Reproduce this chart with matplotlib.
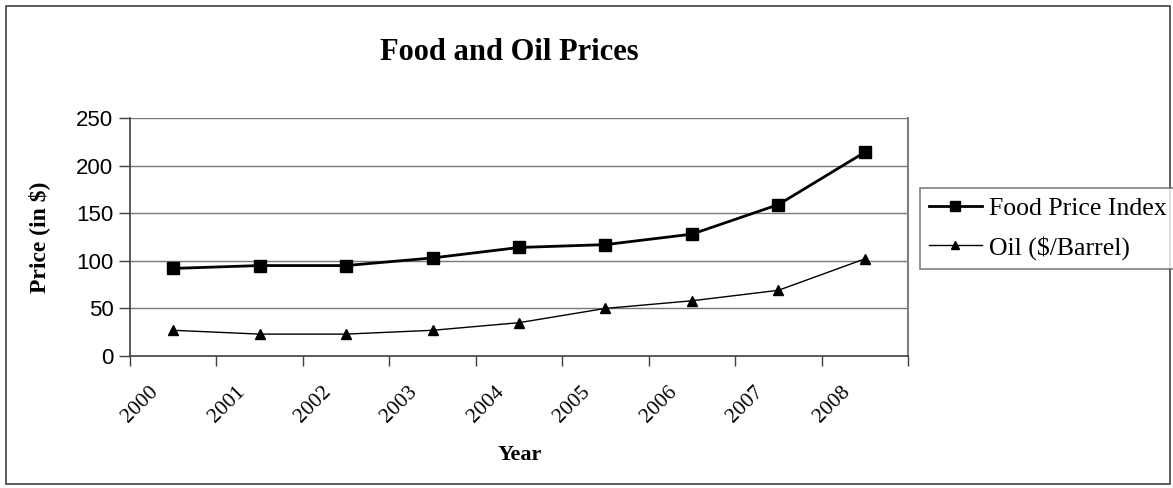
import matplotlib
matplotlib.use("Agg")
import matplotlib.pyplot as plt
import matplotlib.transforms as mtransforms
from matplotlib.patches import Rectangle

years = ["2000", "2001", "2002", "2003", "2004", "2005", "2006", "2007", "2008"]
food_price_index = [92, 95, 95, 103, 114, 117, 128, 159, 214]
oil_price = [27, 23, 23, 27, 35, 50, 58, 69, 102]
y_ticks = [0, 50, 100, 150, 200, 250]

W, H = 1173, 488
fig = plt.figure(figsize=(W / 100, H / 100), dpi=100)
fig.patch.set_facecolor("white")

def fx(px):
    return px / W

def fy(py):
    return 1 - py / H

ax = fig.add_axes([fx(130), fy(356), fx(908) - fx(130), fy(118) - fy(356)])
x = list(range(len(years)))

ax.plot(x, food_price_index, color="black", lw=2.0, marker="s", ms=8.5,
        label="Food Price Index", zorder=3)
ax.plot(x, oil_price, color="black", lw=1.0, marker="^", ms=7,
        label="Oil ($/Barrel)", zorder=3)

ax.set_xlim(-0.5, len(years) - 0.5)
ax.set_ylim(0, 250)
ax.set_yticks(y_ticks)
ax.set_yticklabels([str(v) for v in y_ticks], fontsize=16, family="Liberation Sans")
ax.yaxis.grid(True, color="#777777", lw=1.0)
ax.set_axisbelow(True)

ax.set_xticks(x)
ax.set_xticks([i - 0.5 for i in range(len(years) + 1)], minor=True)
ax.tick_params(axis="x", which="major", length=0, pad=19)
ax.tick_params(axis="x", which="minor", length=7, width=1, color="#404040", direction="out")
ax.tick_params(axis="y", length=8, width=1, color="#404040", direction="out", pad=4)
ax.set_xticklabels(years, fontsize=15.5, family="Liberation Serif", rotation=45,
                   ha="right", va="top")
offset = mtransforms.ScaledTranslation(-11 / 100, 0, fig.dpi_scale_trans)
for lab in ax.get_xticklabels():
    lab.set_transform(lab.get_transform() + offset)

for s in ["left", "bottom"]:
    ax.spines[s].set_color("#404040")
    ax.spines[s].set_linewidth(1.2)
ax.spines["right"].set_color("#808080")
ax.spines["right"].set_linewidth(1.5)
ax.spines["top"].set_visible(False)

fig.text(fx(509), fy(52), "Food and Oil Prices", ha="center", va="center",
         fontsize=22, fontweight="bold", family="Liberation Serif")
fig.text(fx(520), fy(455), "Year", ha="center", va="center",
         fontsize=16, fontweight="bold", family="Liberation Serif")
fig.text(fx(39), fy(237), "Price (in $)", ha="center", va="center", rotation=90,
         fontsize=17, fontweight="bold", family="Liberation Serif")

leg = fig.legend(loc="upper left", bbox_to_anchor=(fx(920), fy(188)),
                 bbox_transform=fig.transFigure, borderaxespad=0,
                 prop={"family": "Liberation Serif", "size": 18.5},
                 frameon=True, fancybox=False, handlelength=2.05,
                 handletextpad=0.3, labelspacing=0.62, borderpad=0.35,
                 markerscale=0.85)
leg.get_frame().set_edgecolor("#606060")
leg.get_frame().set_linewidth(1.2)

fig.patches.append(Rectangle((fx(6), fy(484)), fx(1170) - fx(6), fy(6) - fy(484),
                             transform=fig.transFigure, fill=False,
                             edgecolor="#404040", lw=1.2))

fig.savefig("out.png", dpi=100)
